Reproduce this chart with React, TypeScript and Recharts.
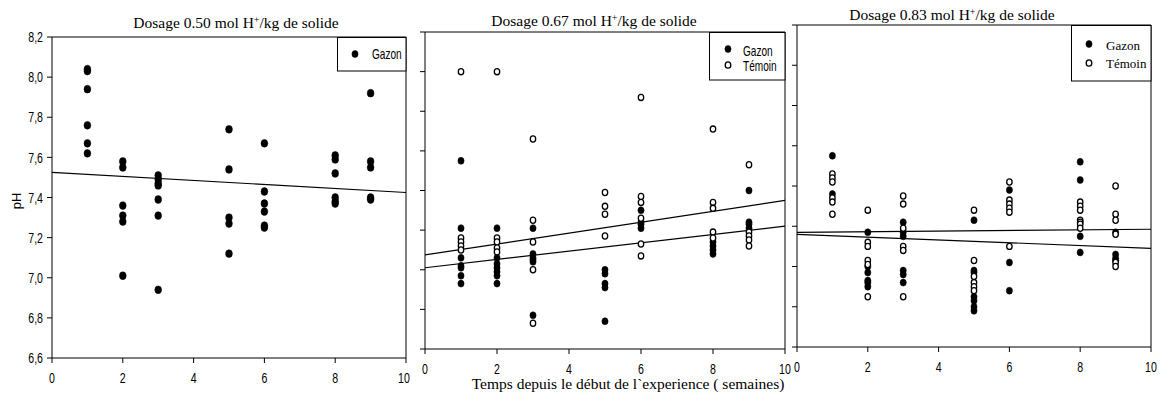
import { ScatterChart, Scatter, XAxis, YAxis, ReferenceLine } from 'recharts'

// sampling weeks (columns of the tables below)
const WEEKS = [1, 2, 3, 5, 6, 8, 9]
const X_TICKS = [0, 2, 4, 6, 8, 10]
const Y_TICKS = [6.6, 6.8, 7.0, 7.2, 7.4, 7.6, 7.8, 8.0, 8.2]

// Dosage 0.50
const gazon050 = [
  [8.04, 8.03, 7.94, 7.76, 7.67, 7.62],
  [7.58, 7.55, 7.36, 7.31, 7.28, 7.01],
  [7.51, 7.49, 7.47, 7.46, 7.39, 7.31, 6.94],
  [7.74, 7.54, 7.3, 7.27, 7.12],
  [7.67, 7.43, 7.37, 7.33, 7.26, 7.25],
  [7.61, 7.59, 7.52, 7.4, 7.38, 7.37],
  [7.92, 7.58, 7.55, 7.4, 7.39],
]
const fitGazon050 = [7.525, 7.425]

// Dosage 0.67
const gazon067 = [
  [7.55, 7.21, 7.06, 7.02, 7.01, 6.97, 6.93],
  [7.21, 7.06, 7.03, 7.01, 6.99, 6.97, 6.93],
  [7.21, 7.08, 7.06, 7.05, 7.04, 6.77],
  [7.0, 6.98, 6.93, 6.91, 6.74],
  [7.3, 7.24, 7.23, 7.21],
  [7.14, 7.12, 7.1, 7.08],
  [7.4, 7.24, 7.23, 7.21],
]
const temoin067 = [
  [8.0, 7.16, 7.14, 7.12, 7.1],
  [8.0, 7.16, 7.14, 7.11, 7.09],
  [7.66, 7.25, 7.14, 7.0, 6.73],
  [7.39, 7.32, 7.28, 7.17],
  [7.87, 7.37, 7.34, 7.26, 7.13, 7.07],
  [7.71, 7.34, 7.31, 7.19, 7.16],
  [7.53, 7.19, 7.17, 7.15, 7.12],
]
const fitGazon067 = [7.01, 7.22]
const fitTemoin067 = [7.075, 7.35]

// Dosage 0.83
const gazon083 = [
  [7.55, 7.36],
  [7.17, 7.0, 6.97, 6.93, 6.92, 6.9],
  [7.22, 7.17, 7.15, 6.98, 6.96, 6.92],
  [7.23, 6.98, 6.97, 6.85, 6.83, 6.8, 6.78],
  [7.38, 7.02, 6.88],
  [7.52, 7.43, 7.15, 7.07],
  [7.17, 7.06, 7.04, 7.03],
]
const temoin083 = [
  [7.46, 7.44, 7.42, 7.34, 7.32, 7.26],
  [7.28, 7.12, 7.1, 7.03, 7.01, 6.85],
  [7.35, 7.31, 7.19, 7.1, 7.08, 6.85],
  [7.28, 7.03, 6.95, 6.92, 6.9, 6.88],
  [7.42, 7.33, 7.31, 7.29, 7.27, 7.1],
  [7.32, 7.3, 7.28, 7.23, 7.22, 7.21, 7.19],
  [7.4, 7.26, 7.23, 7.16, 7.02, 7.0],
]
const fitGazon083 = [7.16, 7.09]
const fitTemoin083 = [7.17, 7.185]

const SANS = "Arial, 'Liberation Sans', sans-serif"
const SERIF = "'Times New Roman', 'Liberation Serif', serif"

const toPoints = (cols: number[][]) =>
  cols.flatMap((vals, i) => vals.map((v) => ({ x: WEEKS[i], y: v })))

const XTick = (p: any) => (
  <g transform={`translate(${p.x},${p.y})`}>
    <text transform="scale(0.73,1)" textAnchor="middle" dy={10.5} fontSize={14.5} fontFamily={SANS} fill="#000">
      {p.payload.value}
    </text>
  </g>
)

const YTick = (p: any) => (
  <g transform={`translate(${p.x},${p.y})`}>
    <text transform="scale(0.73,1)" textAnchor="end" dy={5.2} fontSize={14.5} fontFamily={SANS} fill="#000">
      {p.payload.value.toFixed(1).replace('.', ',')}
    </text>
  </g>
)

const NoTick = () => <g />

const dot = (rx: number, ry: number, open: boolean) => (p: any) => (
  <ellipse
    cx={p.cx}
    cy={p.cy}
    rx={rx}
    ry={ry}
    fill={open ? '#fff' : '#000'}
    stroke="#000"
    strokeWidth={open ? 1.3 : 0.5}
  />
)

interface PanelProps {
  left: number
  width: number
  top: number
  yAxisWidth: number
  bottom: number
  right: number
  gazon: number[][]
  temoin?: number[][]
  fitG: number[]
  fitT?: number[]
  yLabels: boolean
  rx: number
  ry: number
}

function Panel({ left, width, top, yAxisWidth, bottom, right, gazon, temoin, fitG, fitT, yLabels, rx, ry }: PanelProps) {
  return (
    <div style={{ position: 'absolute', left, top: 0 }}>
      <ScatterChart width={width} height={398} margin={{ top, right, bottom, left: 0 }}>
        <XAxis
          type="number"
          dataKey="x"
          domain={[0, 10]}
          ticks={X_TICKS}
          height={30}
          tickSize={5}
          tickMargin={9}
          stroke="#000"
          tick={<XTick />}
          allowDataOverflow
        />
        <YAxis
          type="number"
          dataKey="y"
          domain={[6.6, 8.2]}
          ticks={Y_TICKS}
          width={yAxisWidth}
          tickSize={5}
          tickMargin={4}
          stroke="#000"
          tick={yLabels ? <YTick /> : <NoTick />}
          allowDataOverflow
        />
        <ReferenceLine y={8.2} stroke="#000" />
        <ReferenceLine x={10} stroke="#000" />
        <ReferenceLine segment={[{ x: 0, y: fitG[0] }, { x: 10, y: fitG[1] }]} stroke="#000" strokeWidth={1.2} />
        {fitT && (
          <ReferenceLine segment={[{ x: 0, y: fitT[0] }, { x: 10, y: fitT[1] }]} stroke="#000" strokeWidth={1.2} />
        )}
        <Scatter data={toPoints(gazon)} shape={dot(rx, ry, false)} isAnimationActive={false} />
        {temoin && <Scatter data={toPoints(temoin)} shape={dot(rx - 0.4, ry - 0.4, true)} isAnimationActive={false} />}
      </ScatterChart>
    </div>
  )
}

function LegendBox({ x, y, w, h, items, font, size, sx, dotX, textX }: any) {
  return (
    <svg style={{ position: 'absolute', left: x, top: y }} width={w + 1} height={h + 1}>
      <rect x={0.5} y={0.5} width={w - 0.5} height={h - 0.5} fill="#fff" stroke="#000" />
      {items.map((it: any) => (
        <g key={it.label}>
          <ellipse cx={dotX} cy={it.dy} rx={it.open ? 2.8 : 3.1} ry={it.open ? 3.2 : 3.5} fill={it.open ? '#fff' : '#000'} stroke="#000" strokeWidth={it.open ? 1.3 : 0.5} />
          <g transform={`translate(${textX},${it.ty})`}>
            <text transform={`scale(${sx},1)`} fontSize={size} fontFamily={font} fill="#000">
              {it.label}
            </text>
          </g>
        </g>
      ))}
    </svg>
  )
}

const Title = ({ x, y, dose }: { x: number; y: number; dose: string }) => (
  <text x={x} y={y} textAnchor="middle" fontSize={15.5} fontFamily={SERIF} fill="#000">
    Dosage {dose} mol H<tspan dy={-5} fontSize={10}>+</tspan>
    <tspan dy={5}>/kg de solide</tspan>
  </text>
)

export default function App() {
  return (
    <div style={{ position: 'absolute', left: 0, top: 0, width: 1165, height: 398, background: '#fff' }}>
      <Panel left={0} width={412} top={37} yAxisWidth={52} bottom={10} right={6}
        gazon={gazon050} fitG={fitGazon050} yLabels rx={3.4} ry={3.9} />
      <Panel left={400} width={400} top={32} yAxisWidth={25} bottom={19} right={15}
        gazon={gazon067} temoin={temoin067} fitG={fitGazon067} fitT={fitTemoin067} yLabels={false} rx={3.1} ry={3.5} />
      <Panel left={770} width={395} top={25} yAxisWidth={27} bottom={21} right={14}
        gazon={gazon083} temoin={temoin083} fitG={fitGazon083} fitT={fitTemoin083} yLabels={false} rx={3.1} ry={3.5} />

      <LegendBox x={337} y={37} w={69} h={34} font={SANS} size={14} sx={0.72} dotX={18} textX={35}
        items={[{ label: 'Gazon', dy: 17, ty: 22 }]} />
      <LegendBox x={709} y={32} w={76} h={48} font={SANS} size={14} sx={0.72} dotX={19} textX={34}
        items={[{ label: 'Gazon', dy: 17, ty: 24 }, { label: 'Témoin', dy: 33, ty: 39, open: true }]} />
      <LegendBox x={1071} y={25} w={80} h={56} font={SERIF} size={13} sx={1} dotX={18} textX={35}
        items={[{ label: 'Gazon', dy: 19, ty: 25 }, { label: 'Témoin', dy: 38, ty: 43, open: true }]} />

      <svg style={{ position: 'absolute', left: 0, top: 0, pointerEvents: 'none' }} width={1165} height={398}>
        <Title x={236} y={28} dose="0.50" />
        <Title x={594} y={26} dose="0.67" />
        <Title x={952} y={20} dose="0.83" />
        <text transform="translate(21,201) rotate(-90)" textAnchor="middle" fontSize={13} fontFamily={SANS} fill="#000">
          pH
        </text>
        <text x={628} y={389} textAnchor="middle" fontSize={15.5} fontFamily={SERIF} fill="#000">
          Temps depuis le début de l`experience ( semaines)
        </text>
      </svg>
    </div>
  )
}
